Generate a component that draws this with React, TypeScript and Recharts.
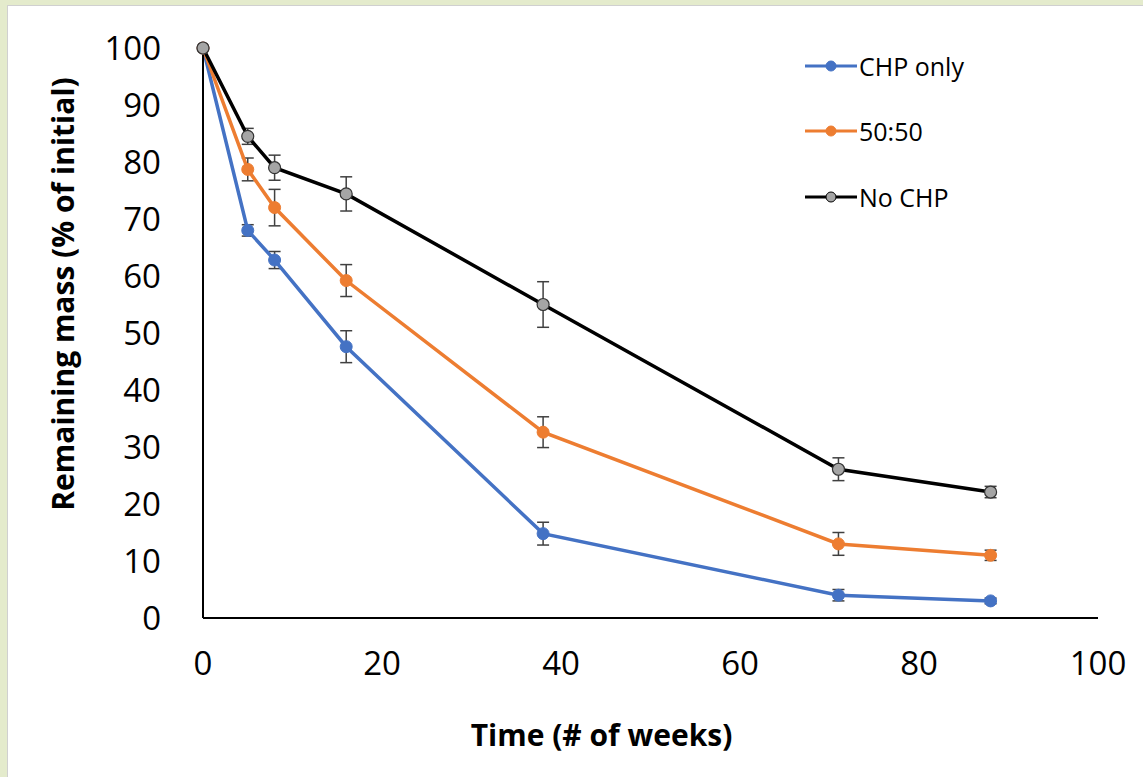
import React from "react";
import {
	LineChart,
	Line,
	XAxis,
	YAxis,
	ErrorBar,
	Label,
} from "recharts";

const weeks = [0, 5, 8, 16, 38, 71, 88];
const chpOnly = [100, 68, 62.8, 47.6, 14.8, 4, 3];
const chpOnlyErr = [0, 1, 1.5, 2.8, 2, 1, 0.5];
const mix5050 = [100, 78.7, 72, 59.2, 32.6, 13, 11];
const mix5050Err = [0, 2, 3.2, 2.8, 2.7, 2, 0.9];
const noChp = [100, 84.5, 79, 74.4, 55, 26.1, 22.1];
const noChpErr = [0, 1.4, 2.2, 3, 4, 2, 1];

const xTicks = [0, 20, 40, 60, 80, 100];
const yTicks = [0, 10, 20, 30, 40, 50, 60, 70, 80, 90, 100];

const data = weeks.map((w, i) => ({
	week: w,
	chp: chpOnly[i],
	chpErr: chpOnlyErr[i],
	mix: mix5050[i],
	mixErr: mix5050Err[i],
	no: noChp[i],
	noErr: noChpErr[i],
}));

const FONT = "'Open Sans', sans-serif";
const BLUE = "#4472c4";
const ORANGE = "#ed7d31";

const legendItems = [
	{ name: "CHP only", color: BLUE, dot: BLUE, dotStroke: BLUE },
	{ name: "50:50", color: ORANGE, dot: ORANGE, dotStroke: ORANGE },
	{ name: "No CHP", color: "#000", dot: "#a5a5a5", dotStroke: "#000" },
];

function LegendBox() {
	return (
		<div
			style={{
				position: "absolute",
				left: 805,
				top: 33,
				fontFamily: FONT,
				fontSize: 25,
				color: "#000",
			}}
		>
			{legendItems.map((it) => (
				<div
					key={it.name}
					style={{ display: "flex", alignItems: "center", height: 65.5 }}
				>
					<svg width={52} height={14} style={{ marginRight: 2 }}>
						<line x1={0} y1={7} x2={52} y2={7} stroke={it.color} strokeWidth={3} />
						<circle cx={26} cy={7} r={5} fill={it.dot} stroke={it.dotStroke} strokeWidth={1} />
					</svg>
					<span>{it.name}</span>
				</div>
			))}
		</div>
	);
}

const errStroke = "#404040";

export default function App() {
	return (
		<div
			style={{
				position: "absolute",
				left: 0,
				top: 0,
				width: 1143,
				height: 777,
				background: "#e4ebcc",
				overflow: "hidden",
			}}
		>
			<div
				style={{
					position: "absolute",
					left: 7,
					top: 5,
					width: 1143,
					height: 777,
					background: "#fff",
					borderTop: "1px solid #d0d0d0",
					borderLeft: "1px solid #d0d0d0",
				}}
			/>
			<div style={{ position: "absolute", left: 0, top: 0 }}>
				<LineChart
					width={1143}
					height={777}
					data={data}
					margin={{ top: 48, right: 45, bottom: 59, left: 80 }}
				>
					<XAxis
						dataKey="week"
						type="number"
						domain={[0, 100]}
						ticks={xTicks}
						tickLine={false}
						axisLine={{ stroke: "#000", strokeWidth: 2 }}
						tick={{ fontSize: 33, fill: "#000", fontFamily: FONT }}
						tickMargin={28}
						height={100}
					>
						<Label
							content={({ viewBox }: any) => (
								<text
									x={viewBox.x + viewBox.width / 2 - 49}
									y={viewBox.y + 128}
									textAnchor="middle"
									style={{ fontFamily: FONT, fontSize: 30, fontWeight: 700 }}
									fill="#000"
								>
									Time (# of weeks)
								</text>
							)}
						/>
					</XAxis>
					<YAxis
						type="number"
						domain={[0, 100]}
						ticks={yTicks}
						tickLine={false}
						axisLine={{ stroke: "#000", strokeWidth: 2 }}
						tick={{ fontSize: 33, fill: "#000", fontFamily: FONT }}
						tickMargin={36}
						width={123}
					>
						<Label
							content={({ viewBox }: any) => {
								const cx = 66;
								const cy = viewBox.y + viewBox.height / 2 - 39;
								return (
									<text
										x={cx}
										y={cy}
										transform={`rotate(-90 ${cx} ${cy})`}
										textAnchor="middle"
										dominantBaseline="middle"
										style={{ fontFamily: FONT, fontSize: 30, fontWeight: 700 }}
										fill="#000"
									>
										Remaining mass (% of initial)
									</text>
								);
							}}
						/>
					</YAxis>
					<Line
						dataKey="chp"
						stroke={BLUE}
						strokeWidth={3.5}
						dot={{ r: 6, fill: BLUE, stroke: BLUE, strokeWidth: 1 }}
						isAnimationActive={false}
					>
						<ErrorBar dataKey="chpErr" direction="y" width={6} stroke={errStroke} strokeWidth={1.5} />
					</Line>
					<Line
						dataKey="mix"
						stroke={ORANGE}
						strokeWidth={3.5}
						dot={{ r: 6, fill: ORANGE, stroke: ORANGE, strokeWidth: 1 }}
						isAnimationActive={false}
					>
						<ErrorBar dataKey="mixErr" direction="y" width={6} stroke={errStroke} strokeWidth={1.5} />
					</Line>
					<Line
						dataKey="no"
						stroke="#000"
						strokeWidth={3.5}
						dot={{ r: 6, fill: "#a5a5a5", stroke: "#333", strokeWidth: 1.2 }}
						isAnimationActive={false}
					>
						<ErrorBar dataKey="noErr" direction="y" width={6} stroke={errStroke} strokeWidth={1.5} />
					</Line>
				</LineChart>
			</div>
			<LegendBox />
		</div>
	);
}
